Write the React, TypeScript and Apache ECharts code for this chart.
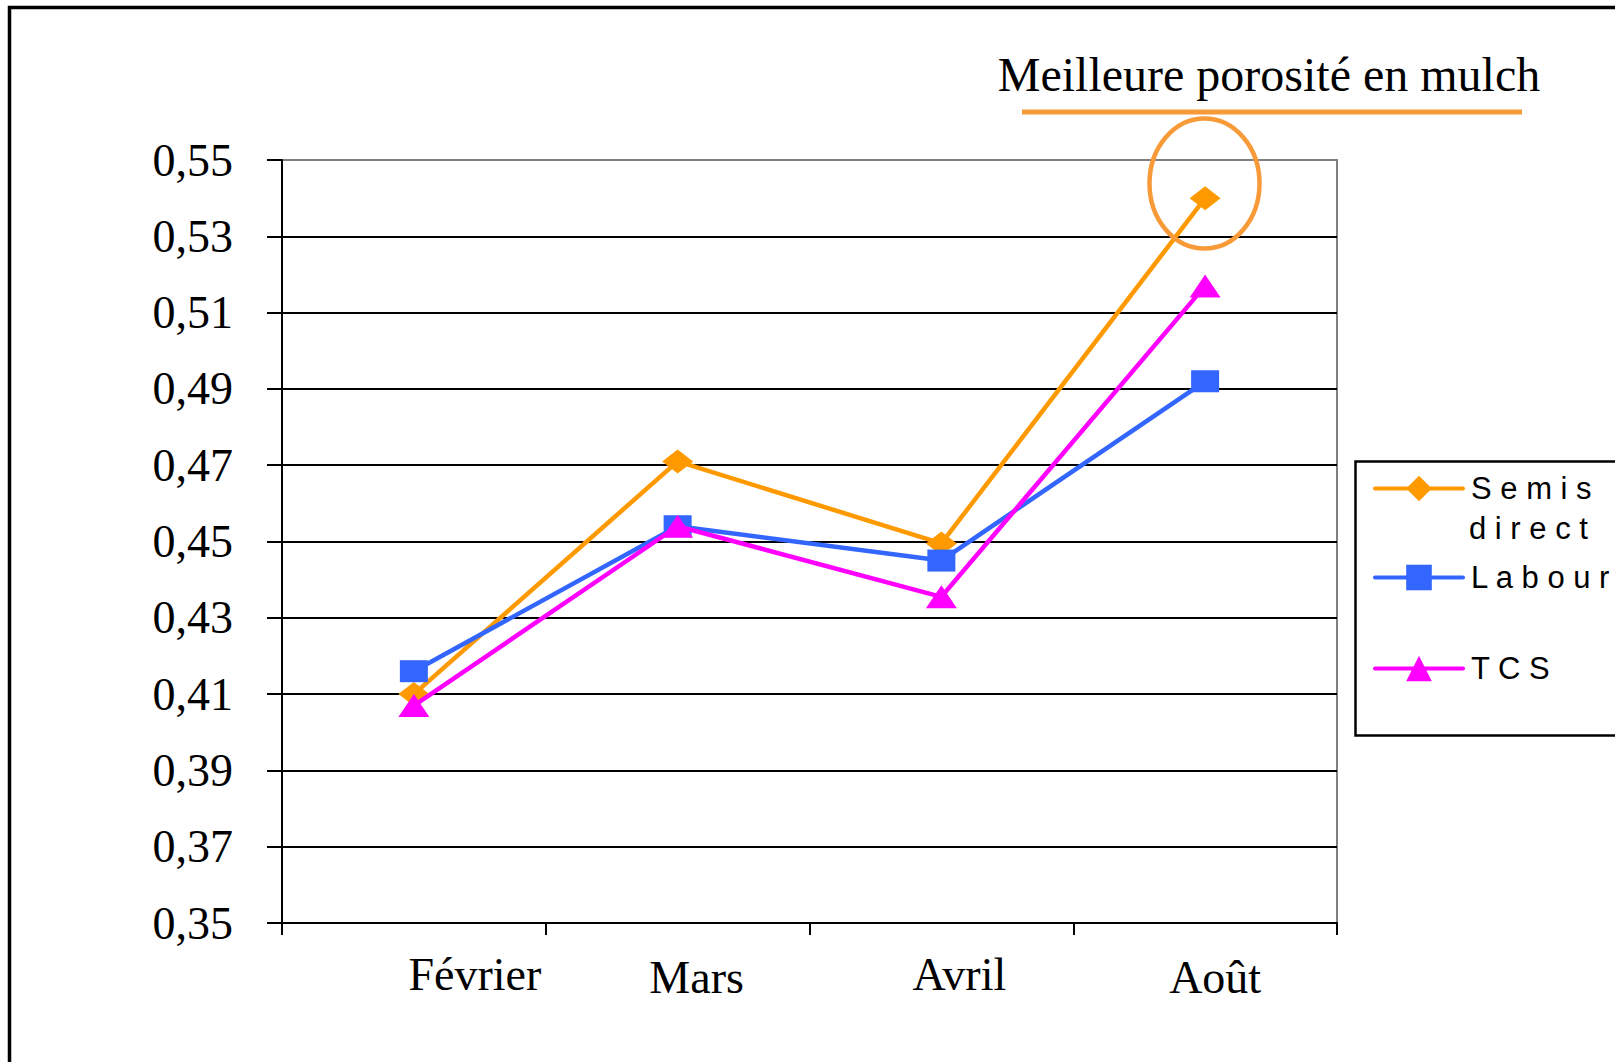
import React, { useEffect, useRef } from 'react';
import * as echarts from 'echarts';

const categories = ['Février', 'Mars', 'Avril', 'Août'];
const semisDirect = [0.41, 0.471, 0.4495, 0.54];
const labour = [0.416, 0.454, 0.445, 0.492];
const tcs = [0.407, 0.454, 0.4355, 0.517];
const yTicks = [0.35, 0.37, 0.39, 0.41, 0.43, 0.45, 0.47, 0.49, 0.51, 0.53, 0.55];
const seriesNames = ['Semis direct', 'Labour', 'TCS'];
const legendLabels = ['S e m i s', 'L a b o u r', 'T C S'];
const legendSecondLine = 'd i r e c t';
const annotation = 'Meilleure porosité en mulch';

const COLORS = ['#FF9900', '#3366FF', '#FF00FF'];
const SYMBOLS = ['diamond', 'rect', 'triangle'];
const SYMBOL_SIZES = [[31, 24], [28, 22], [31, 23]];
const LEGEND_Y = [489, 578, 669];
const LABEL_PAD = [
  [0, 0, 0, 122],
  [3, 0, 0, 38],
  [0, 0, 0, 36],
  [3, 0, 0, 20],
];
const SERIF = '"Liberation Serif", "Times New Roman", serif';
const SANS = '"Liberation Sans", Arial, sans-serif';
const ACCENT = '#F89A38';

export default function App() {
  const ref = useRef<HTMLDivElement>(null);

  useEffect(() => {
    document.body.style.margin = '0';
    if (!ref.current) return;
    const chart = echarts.init(ref.current, undefined, { renderer: 'svg' });
    const dataSets = [semisDirect, labour, tcs];

    const rich: Record<string, any> = {};
    categories.forEach((_, i) => {
      rich['c' + i] = {
        fontFamily: SERIF,
        fontSize: 46,
        color: '#000',
        padding: LABEL_PAD[i],
      };
    });

    chart.setOption({
      animation: false,
      backgroundColor: '#fff',
      grid: {
        left: 282,
        top: 160,
        right: 278,
        bottom: 139,
        show: true,
        borderColor: '#808080',
        borderWidth: 2,
        backgroundColor: 'transparent',
      },
      xAxis: {
        type: 'category',
        data: categories,
        boundaryGap: true,
        axisLine: { show: true, lineStyle: { color: '#000', width: 2 } },
        axisTick: { show: true, inside: false, length: 12, lineStyle: { color: '#000', width: 2 } },
        axisLabel: {
          margin: 28,
          interval: 0,
          formatter: (v: string, i: number) => `{c${i}|${v}}`,
          rich,
        },
        splitLine: { show: false },
      },
      yAxis: {
        type: 'value',
        min: 0.35,
        max: 0.55,
        axisLine: { show: true, lineStyle: { color: '#000', width: 2 } },
        axisTick: {
          show: true,
          inside: false,
          length: 15,
          customValues: yTicks,
          lineStyle: { color: '#000', width: 2 },
        },
        axisLabel: {
          customValues: yTicks,
          margin: 49,
          fontFamily: SERIF,
          fontSize: 46,
          color: '#000',
          formatter: (v: number) => v.toFixed(2).replace('.', ','),
        },
        splitLine: {
          show: true,
          showMaxLine: false,
          lineStyle: { color: '#000', width: 2 },
        },
      },
      legend: seriesNames.map((name, i) => ({
        data: [name],
        left: 1373,
        top: LEGEND_Y[i] - 16,
        orient: 'vertical',
        padding: 0,
        itemWidth: 88,
        itemHeight: 32,
        itemGap: 0,
        selectedMode: false,
        lineStyle: { width: 4, cap: 'round' },
        formatter: () => `{t|${legendLabels[i]}}`,
        textStyle: {
          rich: {
            t: { fontFamily: SANS, fontSize: 31, color: '#000', padding: [0, 0, 0, 3] },
          },
        },
      })),
      series: seriesNames.map((name, i) => ({
        name,
        type: 'line',
        data: dataSets[i],
        symbol: SYMBOLS[i],
        symbolSize: SYMBOL_SIZES[i],
        lineStyle: { color: COLORS[i], width: 4.5 },
        itemStyle: { color: COLORS[i] },
        z: 3 + i,
      })),
      graphic: [
        {
          type: 'rect',
          shape: { x: 9.5, y: 7.5, width: 1700, height: 1100 },
          style: { fill: 'none', stroke: '#000', lineWidth: 3.5 },
          silent: true,
        },
        {
          type: 'text',
          x: 1269,
          y: 74,
          style: {
            text: annotation,
            fontFamily: SERIF,
            fontSize: 48,
            fill: '#000',
            align: 'center',
            verticalAlign: 'middle',
          },
        },
        {
          type: 'line',
          shape: { x1: 1022, y1: 112, x2: 1522, y2: 112 },
          style: { stroke: ACCENT, lineWidth: 5 },
        },
        {
          type: 'ellipse',
          shape: { cx: 1204.5, cy: 183.5, rx: 55, ry: 65 },
          style: { fill: 'none', stroke: ACCENT, lineWidth: 4.5 },
          z: 10,
        },
        {
          type: 'rect',
          shape: { x: 1355.5, y: 461.5, width: 400, height: 274 },
          style: { fill: 'none', stroke: '#000', lineWidth: 2.5 },
        },
        {
          type: 'text',
          x: 1469,
          y: 528,
          style: {
            text: legendSecondLine,
            fontFamily: SANS,
            fontSize: 31,
            fill: '#000',
            align: 'left',
            verticalAlign: 'middle',
          },
        },
      ],
    });

    return () => {
      chart.dispose();
    };
  }, []);

  return (
    <div
      ref={ref}
      style={{ position: 'absolute', left: 0, top: 0, width: 1615, height: 1062 }}
    />
  );
}
